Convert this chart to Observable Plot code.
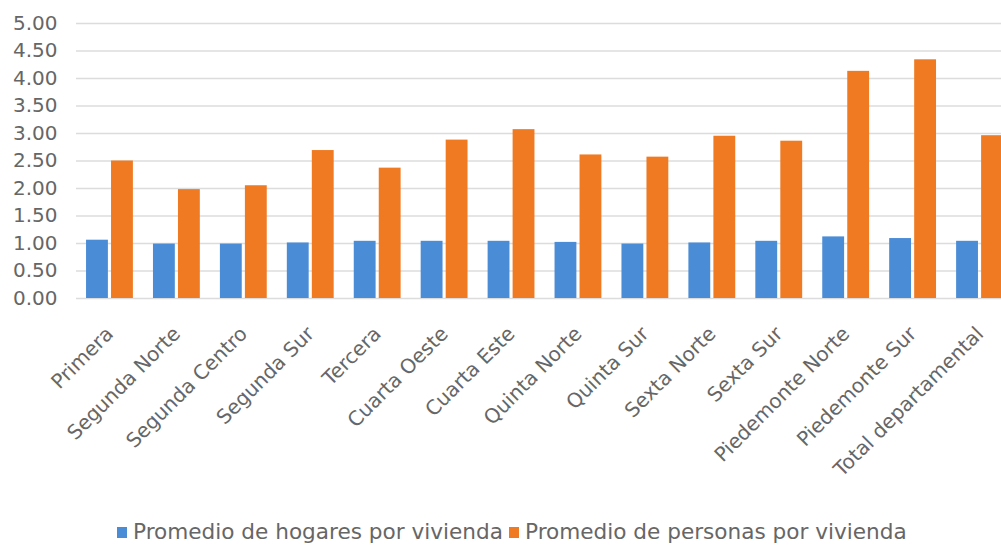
<!DOCTYPE html>
<html>
<head>
<meta charset="utf-8">
<script src="https://cdn.jsdelivr.net/npm/d3@7"></script>
<script src="https://cdn.jsdelivr.net/npm/@observablehq/plot@0.6"></script>
<style>
  html, body { margin: 0; padding: 0; background: #fff; }
  #chart { width: 1001px; height: 546px; overflow: hidden; position: relative; font-family: "DejaVu Sans", sans-serif; }
  .legend { display: flex; align-items: center; margin-top: 10px; margin-left: 117px; height: 24px; line-height: 24px; font-size: 21.6px; color: #666; white-space: nowrap; }
  .legend .sw { display: inline-block; width: 10px; height: 11px; margin-right: 6px; }
  .legend .item { display: flex; align-items: center; margin-right: 6px; }
</style>
</head>
<body>
<div id="chart"></div>
<script>
const categories = ["Primera", "Segunda Norte", "Segunda Centro", "Segunda Sur", "Tercera", "Cuarta Oeste", "Cuarta Este", "Quinta Norte", "Quinta Sur", "Sexta Norte", "Sexta Sur", "Piedemonte Norte", "Piedemonte Sur", "Total departamental"];
const hogares  = [1.06, 0.99, 0.99, 1.01, 1.04, 1.04, 1.04, 1.02, 0.99, 1.01, 1.04, 1.12, 1.09, 1.04];
const personas = [2.50, 1.98, 2.05, 2.69, 2.37, 2.88, 3.07, 2.61, 2.57, 2.95, 2.86, 4.13, 4.34, 2.96];
const seriesNames = ["Promedio de hogares por vivienda", "Promedio de personas por vivienda"];
const seriesColors = ["#4a8cd6", "#f07a22"];
const yTicks = [0, 0.5, 1, 1.5, 2, 2.5, 3, 3.5, 4, 4.5, 5];

const hogaresData = categories.map((c, i) => ({cat: c, value: hogares[i]}));
const personasData = categories.map((c, i) => ({cat: c, value: personas[i]}));

const plot = Plot.plot({
  width: 1001,
  height: 510,
  marginTop: 23,
  marginBottom: 212,
  marginLeft: 76,
  marginRight: -12,
  style: {fontFamily: "DejaVu Sans, sans-serif", color: "#666", background: "transparent"},
  x: {domain: categories, paddingInner: 0.3, paddingOuter: 0.15, round: false, label: null},
  y: {domain: [0, 5], label: null},
  marks: [
    Plot.ruleY(yTicks, {stroke: "#dcdcdc", strokeWidth: 1.5}),
    Plot.barY(hogaresData, {x: "cat", y: "value", fill: seriesColors[0], insetRight: 25}),
    Plot.barY(personasData, {x: "cat", y: "value", fill: seriesColors[1], insetLeft: 25}),
    Plot.axisY({
      ticks: yTicks, tickSize: 0, tickPadding: 19, fontSize: 20, fill: "#666",
      tickFormat: d3.format(".2f"), label: null
    }),
    Plot.axisX({tickRotate: -45, tickSize: 0, tickPadding: 32, fontSize: 20, fill: "#666", label: null})
  ]
});

const chart = document.getElementById("chart");
chart.appendChild(plot);

const legend = document.createElement("div");
legend.className = "legend";
seriesNames.forEach((name, i) => {
  const item = document.createElement("span");
  item.className = "item";
  const sw = document.createElement("span");
  sw.className = "sw";
  sw.style.background = seriesColors[i];
  const t = document.createElement("span");
  t.textContent = name;
  item.appendChild(sw);
  item.appendChild(t);
  legend.appendChild(item);
});
chart.appendChild(legend);
</script>
</body>
</html>
